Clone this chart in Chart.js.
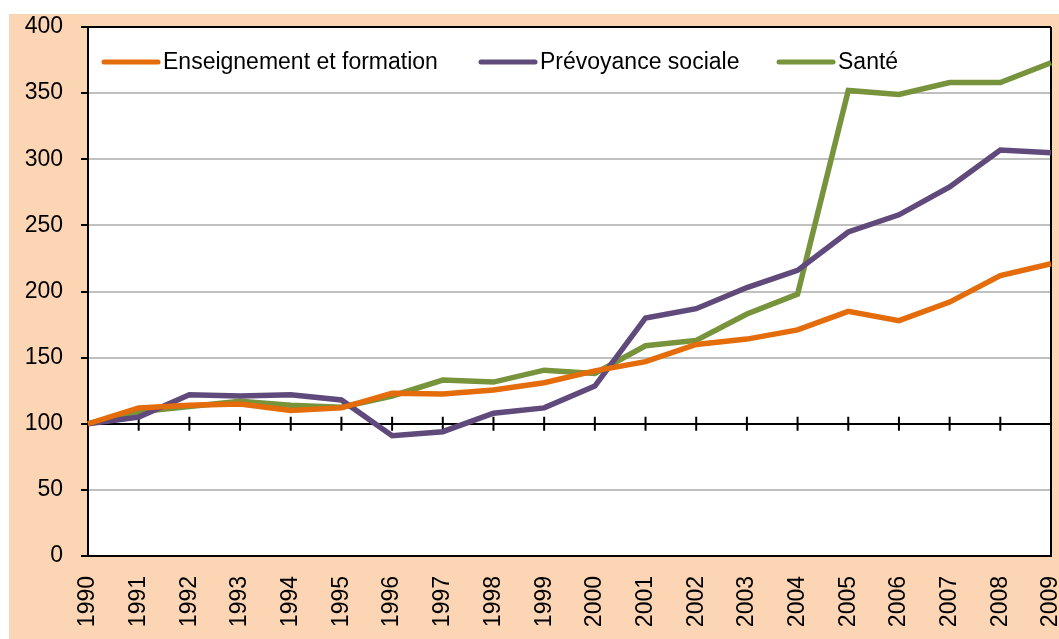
<!DOCTYPE html>
<html lang="fr">
<head>
    <meta charset="UTF-8">
    <title>Indices 1990-2009</title>
    <script src="https://cdn.jsdelivr.net/npm/chart.js"></script>
    <style>
        body {
            margin: 0;
            background: #fff;
        }
        #wrap {
            position: absolute;
            left: 9px;
            top: 14px;
            width: 1050px;
            height: 625px;
            background: #FCD5B5;
        }
    </style>
</head>
<body>
    <div id="wrap">
        <canvas id="chart" width="1050" height="625"></canvas>
    </div>

    <script>
        // Données (indice base 100 en 1990)
        const years = ['1990', '1991', '1992', '1993', '1994', '1995', '1996', '1997', '1998', '1999',
                       '2000', '2001', '2002', '2003', '2004', '2005', '2006', '2007', '2008', '2009'];
        const enseignement = [100, 112, 114, 115, 110, 112, 123, 122.5, 125.5, 131,
                              140, 147, 160, 164, 171, 185, 178, 192, 212, 221];
        const prevoyance = [100, 105, 122, 121, 122, 118, 91, 94, 108, 112,
                            128.5, 180, 187, 203, 216, 245, 258, 279, 307, 305];
        const sante = [100, 109, 113, 117, 114, 112.5, 121, 133, 131.5, 140.5,
                       138, 159, 163, 183, 198, 352, 349, 358, 358, 373];
        const yTicks = [0, 50, 100, 150, 200, 250, 300, 350, 400];

        const FONT = { family: '"Liberation Sans", Arial, sans-serif', size: 23 };

        // fond blanc de la zone de tracé
        const plotBg = {
            id: 'plotBg',
            beforeDraw(chart) {
                const a = chart.chartArea;
                const ctx = chart.ctx;
                ctx.save();
                ctx.fillStyle = '#fff';
                ctx.fillRect(a.left, a.top, a.right - a.left, a.bottom - a.top);
                ctx.restore();
            }
        };

        // légende dessinée dans la zone du graphique
        const legendInside = {
            id: 'legendInside',
            afterDraw(chart) {
                const ctx = chart.ctx;
                const xs = [95, 472, 770];
                const y = 48;
                ctx.save();
                ctx.font = FONT.size + 'px ' + FONT.family;
                ctx.textBaseline = 'middle';
                chart.data.datasets.forEach((ds, i) => {
                    ctx.strokeStyle = ds.borderColor;
                    ctx.lineWidth = 5;
                    ctx.lineCap = 'round';
                    ctx.beginPath();
                    ctx.moveTo(xs[i], y);
                    ctx.lineTo(xs[i] + 54, y);
                    ctx.stroke();
                    ctx.fillStyle = '#000';
                    ctx.fillText(ds.label, xs[i] + 59, y + 1);
                });
                ctx.restore();
            }
        };

        // axe horizontal à 100 avec graduations + bordure droite
        const axis100 = {
            id: 'axis100',
            beforeDatasetsDraw(chart) {
                const ctx = chart.ctx;
                const xs = chart.scales.x;
                const y = chart.scales.y.getPixelForValue(100);
                const area = chart.chartArea;
                ctx.save();
                ctx.strokeStyle = '#000';
                ctx.lineWidth = 2;
                ctx.beginPath();
                for (let i = 0; i < years.length; i++) {
                    const x = xs.getPixelForTick(i);
                    ctx.moveTo(x, y - 7);
                    ctx.lineTo(x, y + 7);
                }
                ctx.moveTo(area.right, area.top);
                ctx.lineTo(area.right, area.bottom);
                ctx.stroke();
                ctx.restore();
            }
        };

        const mkLine = (label, data, color) => ({
            label: label,
            data: data,
            borderColor: color,
            backgroundColor: color,
            borderWidth: 5.5,
            pointRadius: 0,
            tension: 0,
            fill: false
        });

        new Chart(document.getElementById('chart'), {
            type: 'line',
            data: {
                labels: years,
                datasets: [
                    mkLine('Enseignement et formation', enseignement, '#E46C0A'),
                    mkLine('Prévoyance sociale', prevoyance, '#604A7B'),
                    mkLine('Santé', sante, '#77933C')
                ]
            },
            options: {
                responsive: false,
                animation: false,
                devicePixelRatio: 1,
                layout: { padding: { top: 13, right: 8, left: 0, bottom: 0 } },
                plugins: {
                    legend: { display: false },
                    tooltip: { enabled: false }
                },
                scales: {
                    x: {
                        offset: false,
                        grid: { display: false },
                        border: { display: true, color: '#000', width: 2 },
                        ticks: {
                            color: '#000',
                            font: FONT,
                            minRotation: 90,
                            maxRotation: 90,
                            padding: 12,
                            autoSkip: false
                        },
                        afterFit(scale) {
                            scale.height = 83;
                            scale.paddingLeft = 0;
                            scale.paddingRight = 0;
                        }
                    },
                    y: {
                        min: 0,
                        max: 400,
                        afterBuildTicks(scale) {
                            scale.ticks = yTicks.map(v => ({ value: v }));
                        },
                        grid: {
                            color: c => (c.tick && (c.tick.value === 100 || c.tick.value === 400)) ? '#000' : '#C0C0C0',
                            lineWidth: 2,
                            tickLength: 7,
                            tickColor: '#000'
                        },
                        border: { display: true, color: '#000', width: 2 },
                        ticks: {
                            color: '#000',
                            font: FONT,
                            padding: 18
                        },
                        afterFit(scale) {
                            scale.width = 79;
                            scale.paddingTop = 0;
                            scale.paddingBottom = 0;
                        }
                    }
                }
            },
            plugins: [plotBg, axis100, legendInside]
        });
    </script>
</body>
</html>
